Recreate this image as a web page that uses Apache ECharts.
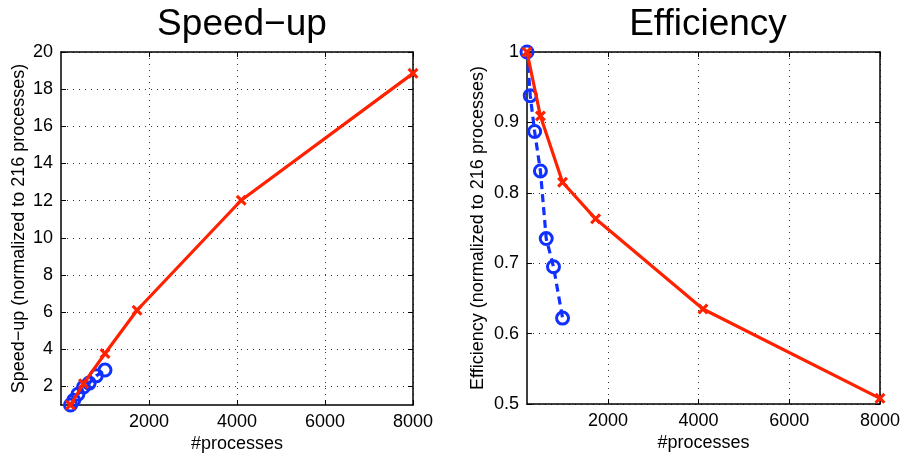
<!DOCTYPE html>
<html>
<head>
<meta charset="utf-8">
<script src="https://cdn.jsdelivr.net/npm/echarts@6/dist/echarts.min.js"></script>
<style>
html,body{margin:0;padding:0;background:#fff;}
#c{width:902px;height:456px;}
</style>
</head>
<body>
<div id="c"></div>
<script>
// Data
const redProcs = [216, 512, 1000, 1728, 4096, 8000];
const redSpeedup = [1.0, 2.15, 3.77, 6.1, 12.02, 18.85];
const redEff = [1.0, 0.909, 0.815, 0.763, 0.635, 0.508];
const blueProcs = [216, 288, 384, 512, 640, 800, 1000];
const blueSpeedup = [1.0, 1.25, 1.58, 1.97, 2.18, 2.57, 2.88];
const blueEff = [1.0, 0.938, 0.887, 0.831, 0.735, 0.695, 0.622];
const xTicks = [2000, 4000, 6000, 8000];
const speedTicks = [2, 4, 6, 8, 10, 12, 14, 16, 18, 20];
const effTicks = [0.5, 0.6, 0.7, 0.8, 0.9, 1.0];

const RED = '#ff2200';
const BLUE = '#1030ff';
const FONT = 'Liberation Sans';
const crossPath = 'path://M0,2L2,0L5,3L8,0L10,2L7,5L10,8L8,10L5,7L2,10L0,8L3,5Z';

const pair = (xs, ys) => xs.map((x, i) => [x, ys[i]]);

const gridLine = { show: true, lineStyle: { color: '#333', width: 1, type: [1, 5] } };
const axLine = { show: true, onZero: false, lineStyle: { color: '#000', width: 1.5 } };
const tickIn = (vals) => ({ show: true, inside: true, length: 5, customValues: vals, lineStyle: { color: '#000', width: 1 } });
const lbl = (vals, margin, fmt) => ({ show: true, customValues: vals, color: '#000', fontFamily: FONT, fontSize: 18, margin: margin, formatter: fmt });

function xAxes(gridIndex, min, name) {
  return [
    { type: 'value', gridIndex, position: 'bottom', min, max: 8000,
      axisLine: axLine, axisTick: tickIn(xTicks), axisLabel: lbl(xTicks, 8, v => String(v)),
      splitLine: gridLine,
      name, nameLocation: 'middle', nameGap: 30, nameMoveOverlap: false,
      nameTextStyle: { color: '#000', fontFamily: FONT, fontSize: 18 } },
    { type: 'value', gridIndex, position: 'top', min, max: 8000,
      axisLine: axLine, axisTick: tickIn(xTicks), axisLabel: { show: false },
      splitLine: { show: false } }
  ];
}
function yAxes(gridIndex, min, max, ticks, name, fmt, nameGap) {
  return [
    { type: 'value', gridIndex, position: 'left', min, max,
      axisLine: axLine, axisTick: tickIn(ticks),
      axisLabel: lbl(ticks, 8, fmt),
      splitLine: gridLine,
      name, nameLocation: 'middle', nameGap, nameMoveOverlap: false, nameRotate: 90,
      nameTextStyle: { color: '#000', fontFamily: FONT, fontSize: 18 } },
    { type: 'value', gridIndex, position: 'right', min, max,
      axisLine: axLine, axisTick: tickIn(ticks), axisLabel: { show: false },
      splitLine: { show: false } }
  ];
}

const blueStyle = (xi, yi, data) => ({
  type: 'line', xAxisIndex: xi, yAxisIndex: yi, data,
  symbol: 'circle', symbolSize: 12,
  itemStyle: { color: 'rgba(0,0,0,0)', borderColor: BLUE, borderWidth: 3 },
  lineStyle: { color: BLUE, width: 3.2, type: [8, 5] },
  emphasis: { disabled: true }, animation: false, z: 2
});
const redStyle = (xi, yi, data) => ({
  type: 'line', xAxisIndex: xi, yAxisIndex: yi, data,
  symbol: crossPath, symbolSize: 11,
  itemStyle: { color: RED },
  lineStyle: { color: RED, width: 3.2 },
  emphasis: { disabled: true }, animation: false, z: 3
});

const chart = echarts.init(document.getElementById('c'), null, { renderer: 'canvas' });
chart.setOption({
  backgroundColor: '#fff',
  animation: false,
  title: [
    { text: 'Speed\u2212up', left: 237, top: 1, textAlign: 'center',
      textStyle: { fontFamily: FONT, fontSize: 37, fontWeight: 'normal', color: '#000' } },
    { text: 'Efficiency', left: 703, top: 1, textAlign: 'center',
      textStyle: { fontFamily: FONT, fontSize: 37, fontWeight: 'normal', color: '#000' } }
  ],
  grid: [
    { left: 61, top: 52, width: 352, height: 353, containLabel: false, outerBoundsMode: 'none' },
    { left: 527, top: 52, width: 353, height: 352, containLabel: false, outerBoundsMode: 'none' }
  ],
  xAxis: [...xAxes(0, 0, '#processes'), ...xAxes(1, 216, '#processes')],
  yAxis: [
    ...yAxes(0, 1, 20, speedTicks, 'Speed\u2212up (normalized to 216 processes)', v => String(v), 33),
    ...yAxes(1, 0.5, 1, effTicks, 'Efficiency (normalized to 216 processes)', v => String(Math.round(v * 10) / 10), 40)
  ],
  series: [
    blueStyle(0, 0, pair(blueProcs, blueSpeedup)),
    redStyle(0, 0, pair(redProcs, redSpeedup)),
    blueStyle(2, 2, pair(blueProcs, blueEff)),
    redStyle(2, 2, pair(redProcs, redEff))
  ]
});
</script>
</body>
</html>
